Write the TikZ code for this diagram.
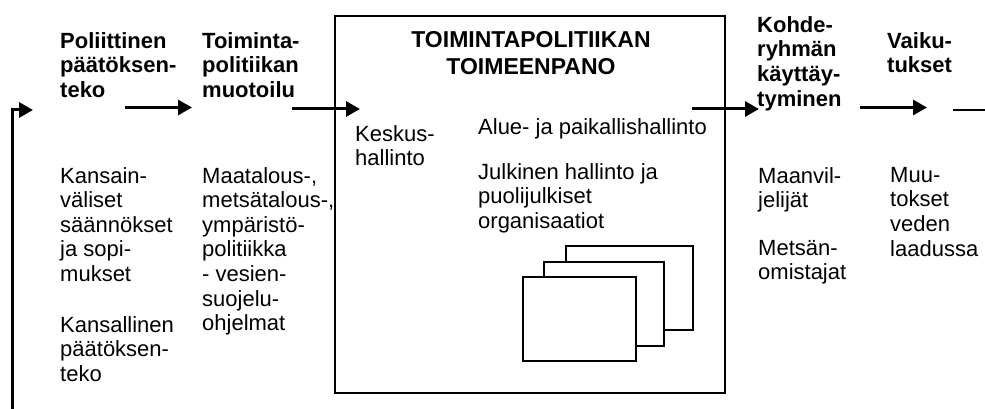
\documentclass[tikz,border=0pt]{standalone}
\usepackage{fontspec}
\setmainfont{Liberation Sans}
\usetikzlibrary{positioning, arrows.meta}

\begin{document}
\begin{tikzpicture}[
        x=1pt, y=-1pt,
        txt/.style={
          anchor=north west,
          inner sep=0pt,
          align=left,
          font=\fontsize{22}{24.6}\selectfont
        },
        head/.style={
          txt,
          font=\bfseries\fontsize{22}{24.8}\selectfont
        },
        flow/.style={
          line width=3pt,
          -{Triangle[length=14pt,width=15pt]}
        },
        sheet/.style={
          draw=black,
          line width=1.6pt,
          fill=white
        }
      ]
        \useasboundingbox (0,0) rectangle (985,409);

        \node[head] (polit) at (60,32) {Poliittinen\\päätöksen-\\teko};
        \node[head] (muot) at (202,32) {Toiminta-\\politiikan\\muotoilu};
        \node[draw=black, line width=1.4pt, minimum width=390pt, minimum height=377pt,
          inner sep=0pt] (impl) at (530,204.5) {};
        \node[head, anchor=north, align=center,
          font=\bfseries\fontsize{23}{26.8}\selectfont] (title) at (531,31)
          {TOIMINTAPOLITIIKAN\\TOIMEENPANO};
        \node[head] (kohde) at (757,16) {Kohde-\\ryhmän\\käyttäy-\\tyminen};
        \node[head] (vaik) at (887,32) {Vaiku-\\tukset};

        \node[txt] (keskus) at (355,125) {Keskus-\\hallinto};
        \node[txt] (alue) at (478,118) {Alue- ja paikallishallinto};
        \node[txt] (julk) at (478,163) {Julkinen hallinto ja\\puolijulkiset\\organisaatiot};

        \node[txt] (kans) at (60,167) {Kansain-\\väliset\\säännökset\\ja sopi-\\mukset};
        \node[txt] (kansal) at (60,316) {Kansallinen\\päätöksen-\\teko};
        \node[txt] (maat) at (202,167) {Maatalous-,\\metsätalous-,\\ympäristö-\\politiikka\\- vesien-\\suojelu-\\ohjelmat};
        \node[txt] (viljel) at (758,167) {Maanvil-\\jelijät};
        \node[txt] (metsan) at (758,240) {Metsän-\\omistajat};
        \node[txt] (muut) at (890,167) {Muu-\\tokset\\veden\\laadussa};

        % organisaatiot
        \draw[sheet] (566,246) rectangle (693,330);
        \draw[sheet] (544,262) rectangle (664,346);
        \draw[sheet] (523,277) rectangle (636,361);

        % kulku
        \coordinate (loopend) at (12,409);
        \coordinate (loopin) at (33,110);
        \coordinate (a1s) at (125,107.5);
        \coordinate (a1e) at (192,107.5);
        \coordinate (a2s) at (292,109);
        \coordinate (a2e) at (360,109);
        \coordinate (a3s) at (692,109);
        \coordinate (a3e) at (759,109);
        \coordinate (a4s) at (860,107.5);
        \coordinate (a4e) at (927,107.5);
        \coordinate (outs) at (953,110);
        \coordinate (oute) at (985,110);

        \draw[flow] (loopend) |- (loopin);
        \draw[flow] (a1s) -- (a1e);
        \draw[flow] (a2s) -- (a2e);
        \draw[flow] (a3s) -- (a3e);
        \draw[flow] (a4s) -- (a4e);
        \draw[line width=2pt] (outs) -- (oute);
      \end{tikzpicture}
\end{document}
